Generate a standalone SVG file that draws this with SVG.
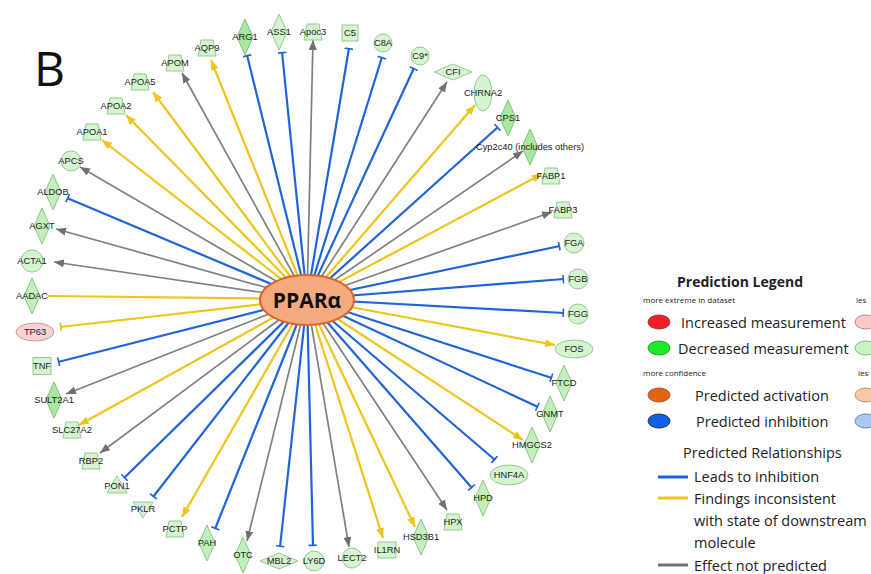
<svg xmlns="http://www.w3.org/2000/svg" width="871" height="574" viewBox="0 0 871 574">
<defs>
<style>
.n{fill:#d5f4d0;stroke:#96c990;stroke-width:1}
.d{fill:#a9e8a1;stroke:#7fc178;stroke-width:1}
.m{fill:#c2efbb;stroke:#8cc786;stroke-width:1}
.t{font-family:"Liberation Sans",Arial,sans-serif;font-size:9.3px;fill:#222;text-anchor:middle}
.b{stroke:#1f64d8;stroke-width:2.2;fill:none}
.y{stroke:#efc51c;stroke-width:2.2;fill:none}
.g{stroke:#808080;stroke-width:1.7;fill:none}
.lg{font-family:"Open Sans","Noto Sans",sans-serif;fill:#222}
</style>
<marker id="ay" markerUnits="userSpaceOnUse" markerWidth="10" markerHeight="8" refX="10" refY="4" orient="auto"><path d="M0,0 L10,4 L0,8 z" fill="#efc51c"/></marker>
<marker id="ag" markerUnits="userSpaceOnUse" markerWidth="10" markerHeight="8" refX="10" refY="4" orient="auto"><path d="M0,0 L10,4 L0,8 z" fill="#707070"/></marker>
<marker id="tb" markerUnits="userSpaceOnUse" markerWidth="3" markerHeight="9" refX="2" refY="4.5" orient="auto"><rect x="0.5" y="0" width="1.6" height="9" fill="#1f64d8"/></marker>
<marker id="ty" markerUnits="userSpaceOnUse" markerWidth="3" markerHeight="9" refX="2" refY="4.5" orient="auto"><rect x="0.5" y="0" width="1.6" height="9" fill="#efc51c"/></marker>
<polygon id="trap" points="-6,-8 6,-8 9,8 -9,8"/>
</defs>
<rect width="871" height="574" fill="#fff"/>
<text x="34" y="86" font-family="'Open Sans','Noto Sans',sans-serif" font-size="48" fill="#111">B</text>

<g id="connectors">
<path class="y" marker-end="url(#ay)" d="M307,299 L211,60"/>
<path class="b" marker-end="url(#tb)" d="M307,299 L247,55"/>
<path class="b" marker-end="url(#tb)" d="M307,299 L282,52"/>
<path class="g" marker-end="url(#ag)" d="M307,299 L313,40"/>
<path class="b" marker-end="url(#tb)" d="M307,299 L349,48"/>
<path class="b" marker-end="url(#tb)" d="M307,299 L382,57"/>
<path class="b" marker-end="url(#tb)" d="M307,299 L414,68"/>
<path class="g" marker-end="url(#ag)" d="M307,299 L447,82"/>
<path class="y" marker-end="url(#ay)" d="M307,299 L475,105"/>
<path class="b" marker-end="url(#tb)" d="M307,299 L498,127"/>
<path class="g" marker-end="url(#ag)" d="M307,299 L523,151"/>
<path class="y" marker-end="url(#ay)" d="M307,299 L542,174"/>
<path class="g" marker-end="url(#ag)" d="M307,299 L552,212"/>
<path class="b" marker-end="url(#tb)" d="M307,299 L560,246"/>
<path class="b" marker-end="url(#tb)" d="M307,299 L564,279"/>
<path class="b" marker-end="url(#tb)" d="M307,299 L564,313"/>
<path class="y" marker-end="url(#ay)" d="M307,299 L555,345"/>
<path class="b" marker-end="url(#tb)" d="M307,299 L552,378"/>
<path class="b" marker-end="url(#tb)" d="M307,299 L538,407"/>
<path class="y" marker-end="url(#ay)" d="M307,299 L523,440"/>
<path class="b" marker-end="url(#tb)" d="M307,299 L495,460"/>
<path class="b" marker-end="url(#tb)" d="M307,299 L472,488"/>
<path class="g" marker-end="url(#ag)" d="M307,299 L447,510"/>
<path class="y" marker-end="url(#ay)" d="M307,299 L415,527"/>
<path class="y" marker-end="url(#ay)" d="M307,299 L383,538"/>
<path class="g" marker-end="url(#ag)" d="M307,299 L349,547"/>
<path class="b" marker-end="url(#tb)" d="M307,299 L313,546"/>
<path class="b" marker-end="url(#tb)" d="M307,299 L280,547"/>
<path class="g" marker-end="url(#ag)" d="M307,299 L247,541"/>
<path class="b" marker-end="url(#tb)" d="M307,299 L215,529"/>
<path class="y" marker-end="url(#ay)" d="M307,299 L182,517"/>
<path class="b" marker-end="url(#tb)" d="M307,299 L153,497"/>
<path class="b" marker-end="url(#tb)" d="M307,299 L124,478"/>
<path class="g" marker-end="url(#ag)" d="M307,299 L100,453"/>
<path class="y" marker-end="url(#ay)" d="M307,299 L79,425"/>
<path class="g" marker-end="url(#ag)" d="M307,299 L66,394"/>
<path class="b" marker-end="url(#tb)" d="M307,299 L58,362"/>
<path class="y" marker-end="url(#ty)" d="M307,299 L60,327"/>
<path class="y" d="M307,299 L48,296"/>
<path class="g" marker-end="url(#ag)" d="M307,299 L54,262"/>
<path class="g" marker-end="url(#ag)" d="M307,299 L56,229"/>
<path class="b" marker-end="url(#tb)" d="M307,299 L67,198"/>
<path class="g" marker-end="url(#ag)" d="M307,299 L80,167"/>
<path class="y" marker-end="url(#ay)" d="M307,299 L102,140"/>
<path class="y" marker-end="url(#ay)" d="M307,299 L126,115"/>
<path class="y" marker-end="url(#ay)" d="M307,299 L153,92"/>
<path class="g" marker-end="url(#ag)" d="M307,299 L182,73"/>
</g>

<g id="PPARa">
<ellipse cx="307" cy="300" rx="47" ry="25" fill="#f4a97e" stroke="#d9672a" stroke-width="2"/>
<text x="307" y="308" text-anchor="middle" font-family="'Open Sans','Noto Sans',sans-serif" font-weight="bold" font-size="21" fill="#111">PPARα</text>
</g>

<g id="AQP9" transform="translate(207,48)"><use href="#trap" class="n"/><text class="t" y="3">AQP9</text></g>
<g id="ARG1" transform="translate(245,37)"><polygon class="d" points="0,-18 8,0 0,18 -8,0"/><text class="t" y="3">ARG1</text></g>
<g id="ASS1" transform="translate(279,32)"><polygon class="n" points="0,-18 8,0 0,18 -8,0"/><text class="t" y="3">ASS1</text></g>
<g id="Apoc3" transform="translate(313,32)"><use href="#trap" class="n"/><text class="t" y="3" font-size="8.5">Apoc3</text></g>
<g id="C5" transform="translate(350,33)"><rect class="n" x="-8" y="-8" width="16" height="16"/><text class="t" y="3">C5</text></g>
<g id="C8A" transform="translate(383,43)"><circle class="n" r="9"/><text class="t" y="3">C8A</text></g>
<g id="C9" transform="translate(420,56)"><circle class="n" r="9"/><text class="t" y="3">C9*</text></g>
<g id="CFI" transform="translate(453,72)"><polygon class="n" points="-19,0 0,-8 19,0 0,8"/><text class="t" y="3">CFI</text></g>
<g id="CHRNA2" transform="translate(483,93)"><ellipse class="n" rx="9" ry="18"/><text class="t" y="3">CHRNA2</text></g>
<g id="CPS1" transform="translate(508,118)"><polygon class="d" points="0,-18 8,0 0,18 -8,0"/><text class="t" y="3">CPS1</text></g>
<g id="Cyp2c40" transform="translate(530,147)"><polygon class="d" points="0,-18 8,0 0,18 -8,0"/><text class="t" y="3">Cyp2c40 (includes others)</text></g>
<g id="FABP1" transform="translate(551,176)"><use href="#trap" class="n"/><text class="t" y="3">FABP1</text></g>
<g id="FABP3" transform="translate(563,210)"><use href="#trap" class="n"/><text class="t" y="3">FABP3</text></g>
<g id="FGA" transform="translate(574,243)"><circle class="n" r="10"/><text class="t" y="3">FGA</text></g>
<g id="FGB" transform="translate(578,279)"><circle class="n" r="10"/><text class="t" y="3">FGB</text></g>
<g id="FGG" transform="translate(578,314)"><circle class="n" r="10"/><text class="t" y="3">FGG</text></g>
<g id="FOS" transform="translate(574,349)"><ellipse class="n" rx="19" ry="9"/><text class="t" y="3">FOS</text></g>
<g id="FTCD" transform="translate(564,383)"><polygon class="m" points="0,-18 8,0 0,18 -8,0"/><text class="t" y="3">FTCD</text></g>
<g id="GNMT" transform="translate(550,414)"><polygon class="m" points="0,-18 8,0 0,18 -8,0"/><text class="t" y="3">GNMT</text></g>
<g id="HMGCS2" transform="translate(532,445)"><polygon class="m" points="0,-18 8,0 0,18 -8,0"/><text class="t" y="3">HMGCS2</text></g>
<g id="HNF4A" transform="translate(509,475)"><ellipse class="n" rx="19" ry="10"/><text class="t" y="3">HNF4A</text></g>
<g id="HPD" transform="translate(483,498)"><polygon class="m" points="0,-18 8,0 0,18 -8,0"/><text class="t" y="3">HPD</text></g>
<g id="HPX" transform="translate(453,522)"><use href="#trap" class="n"/><text class="t" y="3">HPX</text></g>
<g id="HSD3B1" transform="translate(421,537)"><polygon class="m" points="0,-18 8,0 0,18 -8,0"/><text class="t" y="3">HSD3B1</text></g>
<g id="IL1RN" transform="translate(387,550)"><rect class="n" x="-9" y="-8" width="18" height="16"/><text class="t" y="3">IL1RN</text></g>
<g id="LECT2" transform="translate(352,558)"><circle class="n" r="10"/><text class="t" y="3">LECT2</text></g>
<g id="LY6D" transform="translate(314,561)"><circle class="n" r="10"/><text class="t" y="3">LY6D</text></g>
<g id="MBL2" transform="translate(279,561)"><polygon class="n" points="-19,0 0,-8 19,0 0,8"/><text class="t" y="3">MBL2</text></g>
<g id="OTC" transform="translate(243,555)"><polygon class="m" points="0,-18 8,0 0,18 -8,0"/><text class="t" y="3">OTC</text></g>
<g id="PAH" transform="translate(207,543)"><polygon class="m" points="0,-18 8,0 0,18 -8,0"/><text class="t" y="3">PAH</text></g>
<g id="PCTP" transform="translate(175,529)"><use href="#trap" class="n"/><text class="t" y="3">PCTP</text></g>
<g id="PKLR" transform="translate(143,509)"><polygon class="n" points="-10,-7 10,-7 0,9"/><text class="t" y="3">PKLR</text></g>
<g id="PON1" transform="translate(117,486)"><polygon class="n" points="0,-10 10,7 -10,7"/><text class="t" y="3">PON1</text></g>
<g id="RBP2" transform="translate(91,461)"><use href="#trap" class="n"/><text class="t" y="3">RBP2</text></g>
<g id="SLC27A2" transform="translate(72,430)"><use href="#trap" class="n"/><text class="t" y="3">SLC27A2</text></g>
<g id="SULT2A1" transform="translate(54,400)"><polygon class="d" points="0,-18 8,0 0,18 -8,0"/><text class="t" y="3">SULT2A1</text></g>
<g id="TNF" transform="translate(42,366)"><rect class="n" x="-9" y="-8.5" width="18" height="17"/><text class="t" y="3">TNF</text></g>
<g id="TP63" transform="translate(35,332)"><ellipse rx="19" ry="9" fill="#f7d3d3" stroke="#c99a9a"/><text class="t" y="3">TP63</text></g>
<g id="AADAC" transform="translate(32,296)"><polygon class="m" points="0,-18 8,0 0,18 -8,0"/><text class="t" y="3">AADAC</text></g>
<g id="ACTA1" transform="translate(32,261)"><circle class="n" r="11"/><text class="t" y="3">ACTA1</text></g>
<g id="AGXT" transform="translate(42,226)"><polygon class="m" points="0,-18 8,0 0,18 -8,0"/><text class="t" y="3">AGXT</text></g>
<g id="ALDOB" transform="translate(53,192)"><polygon class="m" points="0,-18 8,0 0,18 -8,0"/><text class="t" y="3">ALDOB</text></g>
<g id="APCS" transform="translate(71,161)"><circle class="n" r="10"/><text class="t" y="3">APCS</text></g>
<g id="APOA1" transform="translate(92,132)"><use href="#trap" class="n"/><text class="t" y="3">APOA1</text></g>
<g id="APOA2" transform="translate(116,106)"><use href="#trap" class="n"/><text class="t" y="3">APOA2</text></g>
<g id="APOA5" transform="translate(140,82)"><use href="#trap" class="n"/><text class="t" y="3">APOA5</text></g>
<g id="APOM" transform="translate(175,63)"><use href="#trap" class="n"/><text class="t" y="3">APOM</text></g>

<g id="legend">
<text class="lg" x="740" y="287" font-size="14" font-weight="bold" text-anchor="middle">Prediction Legend</text>
<text class="lg" x="643" y="303" font-size="8">more extreme in dataset</text>
<text class="lg" x="856" y="303" font-size="8">les</text>
<ellipse cx="659" cy="322" rx="11" ry="7" fill="#f0202a" stroke="#a33"/>
<text class="lg" x="681" y="328" font-size="14.5">Increased measurement</text>
<ellipse cx="866" cy="322" rx="11" ry="7" fill="#f7c9c9" stroke="#b88"/>
<ellipse cx="659" cy="348" rx="11" ry="7" fill="#1eea28" stroke="#393"/>
<text class="lg" x="678" y="354" font-size="14.5">Decreased measurement</text>
<ellipse cx="866" cy="348" rx="11" ry="7" fill="#c8f3c3" stroke="#8b8"/>
<text class="lg" x="643" y="376" font-size="8">more confidence</text>
<text class="lg" x="858" y="376" font-size="8">les</text>
<ellipse cx="659" cy="395" rx="11" ry="7" fill="#e4650f" stroke="#a54"/>
<text class="lg" x="695" y="401" font-size="14.5">Predicted activation</text>
<ellipse cx="866" cy="395" rx="11" ry="7" fill="#f6c9a6" stroke="#b97"/>
<ellipse cx="659" cy="421" rx="11" ry="7" fill="#1160e6" stroke="#235"/>
<text class="lg" x="696" y="427" font-size="14.5">Predicted inhibition</text>
<ellipse cx="866" cy="421" rx="11" ry="7" fill="#a9c8f3" stroke="#789"/>
<text class="lg" x="683" y="458" font-size="14.5">Predicted Relationships</text>
<line x1="658" y1="477" x2="688" y2="477" stroke="#1f64d8" stroke-width="3"/>
<text class="lg" x="694" y="482" font-size="14.5">Leads to inhibition</text>
<line x1="658" y1="498" x2="688" y2="498" stroke="#efc51c" stroke-width="3"/>
<text class="lg" x="694" y="504" font-size="14.5">Findings inconsistent</text>
<text class="lg" x="694" y="526" font-size="14.5">with state of downstream</text>
<text class="lg" x="694" y="548" font-size="14.5">molecule</text>
<line x1="658" y1="565" x2="688" y2="565" stroke="#707070" stroke-width="3"/>
<text class="lg" x="694" y="571" font-size="14.5">Effect not predicted</text>
</g>
</svg>
